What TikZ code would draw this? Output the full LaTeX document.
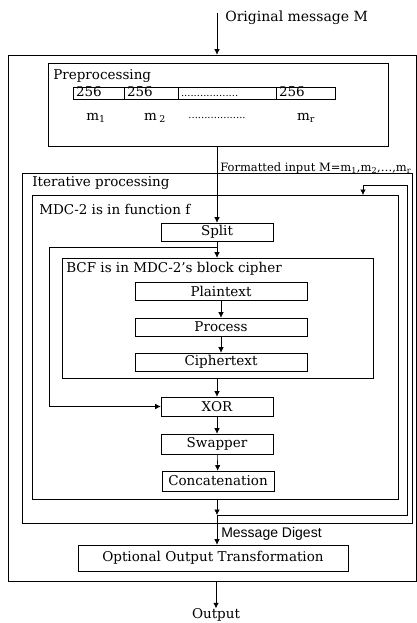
\documentclass[tikz,border=0pt]{standalone}
\usepackage{fontspec}
\setmainfont{DejaVu Serif}
\newfontfamily\digestfont{Liberation Sans}
\usetikzlibrary{arrows.meta}

\begin{document}
\begin{tikzpicture}[x=1pt,y=-1pt,line width=0.6pt,
  box/.style={draw,inner sep=0pt,font=\fontsize{13.5}{15}\selectfont},
  title/.style={anchor=west,inner sep=0pt,font=\fontsize{13.5}{15}\selectfont},
  cell/.style={draw,inner xsep=3pt,inner ysep=0pt,minimum height=12pt,
    text height=9pt,text depth=1pt,align=left,font=\fontsize{13.5}{13}\selectfont},
  note/.style={inner sep=0pt,font=\fontsize{13.5}{15}\selectfont},
  arr/.style={-{Latex[length=5.5pt,width=5.5pt]}}]
\useasboundingbox (0,0) rectangle (417,623);
%draw frames:
\node[box,minimum width=408pt,minimum height=526pt] (outer) at (212,318) {};
\node[box,minimum width=340pt,minimum height=83pt] (pre) at (218,104.5) {};
\node[box,minimum width=390pt,minimum height=350pt] (iter) at (217,348) {};
\node[box,minimum width=366pt,minimum height=304pt] (mdc) at (215,347) {};
\node[box,minimum width=311pt,minimum height=120pt] (bcf) at (217.5,318) {};
%draw frame titles:
\node[title] (pretitle) at (53,76) {Preprocessing};
\node[title] (itertitle) at (32,183) {Iterative processing};
\node[title] (mdctitle) at (39,209) {MDC-2 is in function f};
\node[title] (bcftitle) at (66,269) {BCF is in MDC-2's block cipher};
%draw message blocks:
\node[cell,text width=45pt] (c1) at (98.5,93) {256};
\node[cell,text width=48pt] (c2) at (151,93) {256};
\node[cell,text width=92pt] (c3) at (227,93) {\fontsize{10}{9}\selectfont ..................};
\node[cell,text width=53pt] (c4) at (305.5,93) {256};
\node[note] (m1) at (96,118) {m\textsubscript{1}};
\node[note] (m2) at (155,118) {m\,\textsubscript{2}};
\node[note] (mdots) at (217,118) {\fontsize{10}{9}\selectfont ..................};
\node[note] (mr) at (306,118) {m\textsubscript{r}};
%draw steps:
\node[box,minimum width=112pt,minimum height=18pt] (split) at (217,232) {Split};
\node[box,minimum width=172pt,minimum height=18pt] (plain) at (221,291) {Plaintext};
\node[box,minimum width=172pt,minimum height=18pt] (process) at (221,327) {Process};
\node[box,minimum width=172pt,minimum height=18pt] (cipher) at (221,362) {Ciphertext};
\node[box,minimum width=112pt,minimum height=19pt] (xor) at (217,406.5) {XOR};
\node[box,minimum width=112pt,minimum height=20pt] (swap) at (217,444) {Swapper};
\node[box,minimum width=112pt,minimum height=20pt] (concat) at (218,481) {Concatenation};
\node[box,minimum width=270pt,minimum height=26pt] (opt) at (213,558) {Optional Output Transformation};
%draw in and out:
\coordinate (in) at (217,13);
\node[note,anchor=west,font=\fontsize{14}{16}\selectfont] (orig) at (225,18) {Original message M};
\node[note] (out) at (216,615) {Output};
\draw[arr] (in) -- (in |- outer.north);
\draw[arr] (out |- outer.south) -- (out.north);
%draw flow:
\draw[arr] (split.north |- pre.south) -- (split.north)
  node[pos=0.29,anchor=west,inner sep=0pt,xshift=3pt,font=\fontsize{11.5}{13}\selectfont]
  {Formatted input M=m\textsubscript{1},m\textsubscript{2},\dots,m\textsubscript{r}};
\draw[arr] (split) -- (split |- bcf.north);
\coordinate (byp) at (49,247);
\draw[arr] (split.south |- byp) -- (byp) |- (xor.west);
\draw[arr] (plain) -- (process);
\draw[arr] (process) -- (cipher);
\draw[arr] (xor |- bcf.south) -- (xor);
\draw[arr] (xor) -- (swap);
\draw[arr] (swap) -- (concat);
%draw feedback:
\coordinate (fb) at (217,515);
\coordinate (fbr) at (407,185);
\coordinate (fbin) at (363,195);
\draw[arr] (fb |- mdc.south) -- (fb);
\draw[arr] (fb) -| (fbr) -| (fbin);
\draw[arr] (fb) -- (fb |- opt.north)
  node[pos=0.63,anchor=west,inner sep=0pt,xshift=4pt,font=\digestfont\fontsize{14}{16}\selectfont] {Message Digest};
\end{tikzpicture}
\end{document}
